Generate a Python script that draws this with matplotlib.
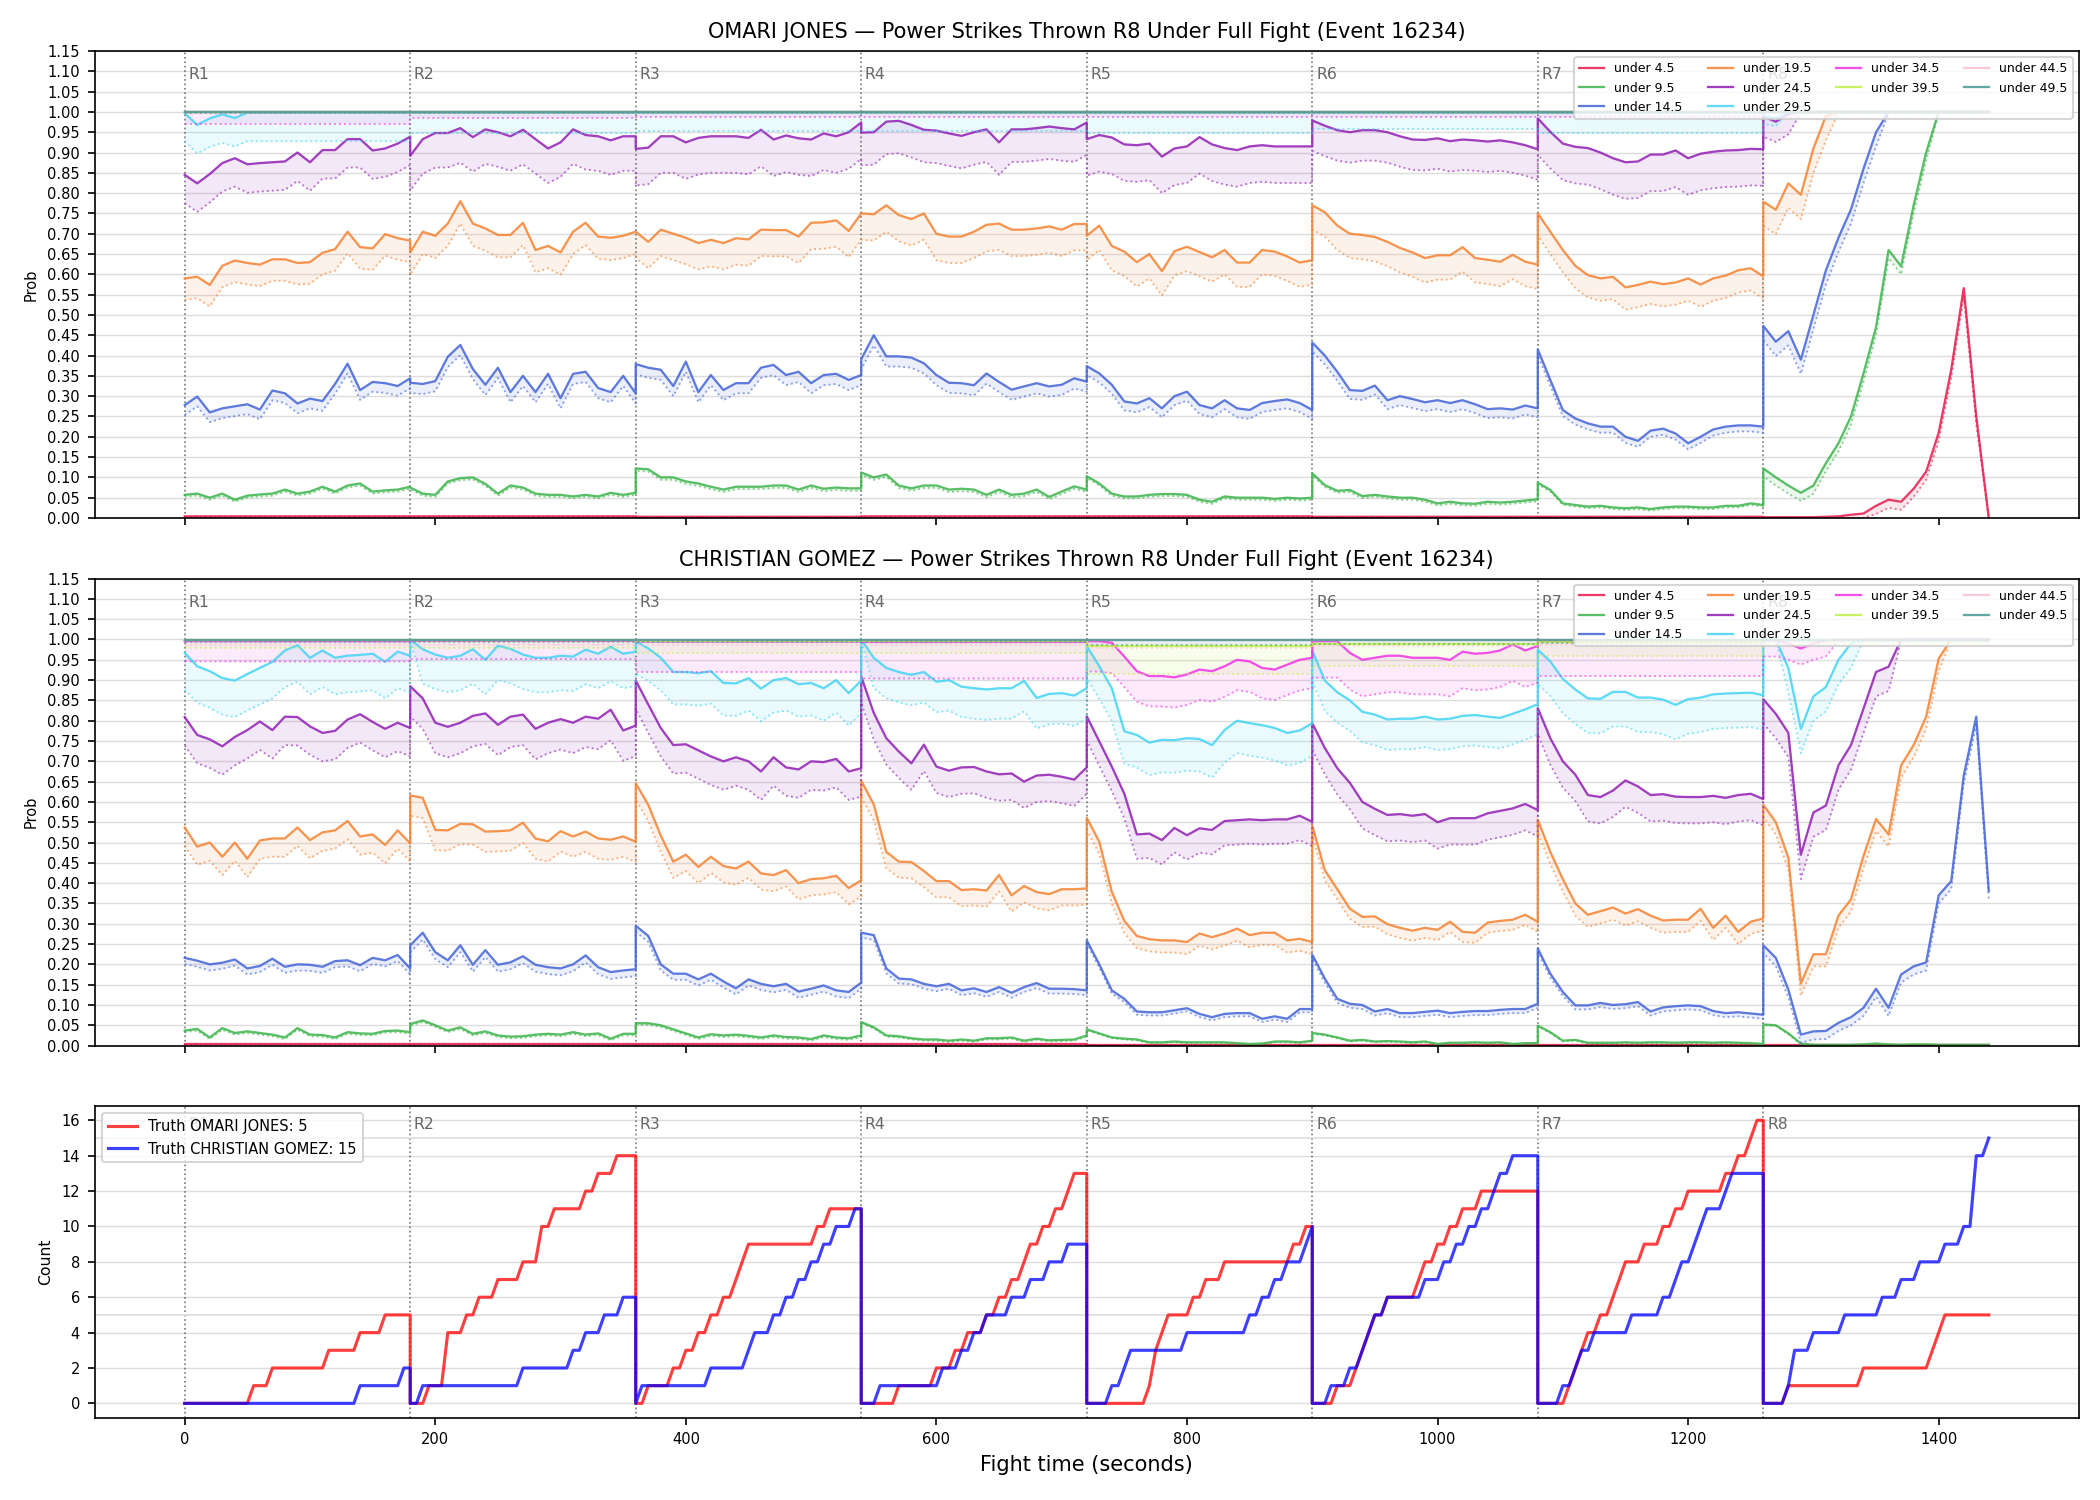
import numpy as np
import matplotlib
matplotlib.use("Agg")
import matplotlib.pyplot as plt
from matplotlib.transforms import blended_transform_factory

# ---- data -------------------------------------------------------------
# probabilities sampled every 10 s inside each 180 s round (19 points per round);
# a single number means the curve sits flat at that level for the whole round
round_len = 180
prob_step = 10
round_names = ["R1", "R2", "R3", "R4", "R5", "R6", "R7", "R8"]
labels = ["under 4.5", "under 9.5", "under 14.5", "under 19.5", "under 24.5",
          "under 29.5", "under 34.5", "under 39.5", "under 44.5", "under 49.5"]
colors = ["#e6194b", "#3cb44b", "#4363d8", "#f58231", "#911eb4",
          "#42d4f4", "#f032e6", "#bfef45", "#fabed4", "#469990"]

# OMARI JONES
jones_u45 = [0.004, 0.004, 0.003, 0.004, 0.004, 0.003, 0.003,
             [0.002, 0.002, 0.002, 0.002, 0.002, 0.003, 0.004, 0.008, 0.011, 0.03,
              0.045, 0.04, 0.072, 0.114, 0.21, 0.365, 0.566, 0.25, 0.0]]
jones_u95 = [
    [0.057, 0.06, 0.05, 0.06, 0.045, 0.055, 0.058, 0.06, 0.07, 0.06, 0.065, 0.077, 0.065, 0.08, 0.085, 0.065, 0.068, 0.07, 0.077],
    [0.075, 0.06, 0.057, 0.09, 0.098, 0.1, 0.084, 0.06, 0.08, 0.075, 0.06, 0.057, 0.057, 0.053, 0.057, 0.053, 0.062, 0.057, 0.062],
    [0.122, 0.12, 0.10, 0.10, 0.09, 0.085, 0.077, 0.07, 0.077, 0.077, 0.077, 0.08, 0.08, 0.07, 0.08, 0.072, 0.075, 0.073, 0.073],
    [0.112, 0.10, 0.107, 0.08, 0.073, 0.08, 0.08, 0.07, 0.072, 0.07, 0.057, 0.07, 0.057, 0.06, 0.07, 0.052, 0.065, 0.078, 0.07],
    [0.103, 0.085, 0.06, 0.053, 0.053, 0.057, 0.059, 0.059, 0.057, 0.045, 0.04, 0.053, 0.05, 0.05, 0.05, 0.047, 0.05, 0.048, 0.05],
    [0.11, 0.081, 0.067, 0.069, 0.054, 0.057, 0.053, 0.05, 0.05, 0.045, 0.036, 0.04, 0.036, 0.035, 0.04, 0.038, 0.04, 0.043, 0.046],
    [0.087, 0.069, 0.036, 0.032, 0.028, 0.03, 0.026, 0.024, 0.026, 0.022, 0.026, 0.028, 0.028, 0.026, 0.026, 0.03, 0.03, 0.036, 0.032],
    [0.122, 0.10, 0.08, 0.062, 0.08, 0.135, 0.184, 0.25, 0.356, 0.47, 0.66, 0.62, 0.77, 0.90, 1.0, 1.0, 1.0, 1.0, 1.0],
]
jones_u145 = [
    [0.278, 0.299, 0.26, 0.27, 0.275, 0.28, 0.267, 0.314, 0.307, 0.282, 0.294, 0.288, 0.33, 0.38, 0.315, 0.335, 0.332, 0.325, 0.344],
    [0.333, 0.33, 0.337, 0.397, 0.426, 0.367, 0.328, 0.37, 0.31, 0.35, 0.31, 0.355, 0.295, 0.355, 0.36, 0.32, 0.31, 0.35, 0.307],
    [0.379, 0.37, 0.365, 0.325, 0.385, 0.31, 0.352, 0.315, 0.332, 0.332, 0.37, 0.377, 0.352, 0.36, 0.332, 0.352, 0.355, 0.34, 0.352],
    [0.391, 0.45, 0.398, 0.398, 0.395, 0.381, 0.352, 0.333, 0.332, 0.327, 0.356, 0.335, 0.316, 0.324, 0.332, 0.324, 0.328, 0.344, 0.336],
    [0.374, 0.356, 0.328, 0.287, 0.282, 0.295, 0.27, 0.3, 0.311, 0.278, 0.27, 0.29, 0.27, 0.266, 0.283, 0.288, 0.292, 0.283, 0.266],
    [0.432, 0.40, 0.36, 0.315, 0.313, 0.326, 0.29, 0.3, 0.293, 0.285, 0.29, 0.283, 0.29, 0.28, 0.268, 0.27, 0.267, 0.277, 0.27],
    [0.415, 0.34, 0.266, 0.245, 0.233, 0.225, 0.225, 0.2, 0.19, 0.215, 0.22, 0.208, 0.184, 0.2, 0.218, 0.225, 0.228, 0.228, 0.225],
    [0.473, 0.434, 0.46, 0.39, 0.5, 0.61, 0.69, 0.76, 0.86, 0.95, 1.0, 1.0, 1.0, 1.0, 1.0, 1.0, 1.0, 1.0, 1.0],
]
jones_u195 = [
    [0.59, 0.594, 0.574, 0.621, 0.634, 0.628, 0.624, 0.637, 0.637, 0.628, 0.63, 0.653, 0.662, 0.705, 0.667, 0.664, 0.699, 0.689, 0.683],
    [0.654, 0.705, 0.695, 0.725, 0.78, 0.725, 0.713, 0.697, 0.697, 0.727, 0.66, 0.67, 0.654, 0.705, 0.727, 0.693, 0.69, 0.695, 0.705],
    [0.705, 0.68, 0.71, 0.70, 0.69, 0.677, 0.685, 0.677, 0.689, 0.686, 0.71, 0.709, 0.709, 0.693, 0.727, 0.728, 0.733, 0.707, 0.75],
    [0.75, 0.748, 0.77, 0.746, 0.736, 0.75, 0.70, 0.693, 0.693, 0.705, 0.722, 0.725, 0.71, 0.71, 0.713, 0.718, 0.71, 0.724, 0.724],
    [0.695, 0.72, 0.67, 0.656, 0.63, 0.65, 0.608, 0.657, 0.668, 0.655, 0.642, 0.66, 0.629, 0.629, 0.66, 0.656, 0.644, 0.629, 0.635],
    [0.77, 0.753, 0.72, 0.70, 0.697, 0.692, 0.68, 0.665, 0.654, 0.64, 0.647, 0.647, 0.667, 0.64, 0.636, 0.631, 0.648, 0.631, 0.624],
    [0.75, 0.705, 0.66, 0.621, 0.598, 0.59, 0.594, 0.568, 0.574, 0.582, 0.576, 0.58, 0.59, 0.575, 0.59, 0.597, 0.61, 0.615, 0.595],
    [0.779, 0.759, 0.824, 0.796, 0.91, 0.99, 1.0, 1.0, 1.0, 1.0, 1.0, 1.0, 1.0, 1.0, 1.0, 1.0, 1.0, 1.0, 1.0],
]
jones_u245 = [
    [0.845, 0.824, 0.847, 0.874, 0.886, 0.871, 0.874, 0.876, 0.878, 0.90, 0.876, 0.906, 0.906, 0.933, 0.933, 0.905, 0.91, 0.922, 0.939],
    [0.892, 0.933, 0.948, 0.948, 0.96, 0.938, 0.957, 0.95, 0.94, 0.956, 0.933, 0.91, 0.925, 0.957, 0.943, 0.94, 0.93, 0.94, 0.94],
    [0.909, 0.912, 0.94, 0.94, 0.925, 0.936, 0.94, 0.94, 0.94, 0.936, 0.956, 0.932, 0.942, 0.935, 0.932, 0.947, 0.94, 0.95, 0.974],
    [0.949, 0.95, 0.976, 0.978, 0.968, 0.956, 0.954, 0.947, 0.941, 0.95, 0.957, 0.925, 0.957, 0.957, 0.96, 0.964, 0.96, 0.957, 0.974],
    [0.933, 0.943, 0.937, 0.92, 0.918, 0.922, 0.89, 0.91, 0.915, 0.938, 0.92, 0.911, 0.906, 0.915, 0.918, 0.915, 0.915, 0.915, 0.915],
    [0.979, 0.966, 0.955, 0.95, 0.955, 0.955, 0.95, 0.94, 0.932, 0.931, 0.935, 0.928, 0.932, 0.93, 0.927, 0.93, 0.925, 0.918, 0.908],
    [0.984, 0.951, 0.922, 0.914, 0.911, 0.90, 0.886, 0.876, 0.878, 0.895, 0.895, 0.905, 0.886, 0.897, 0.902, 0.905, 0.906, 0.909, 0.908],
    [0.989, 0.976, 0.995, 1.0, 1.0, 1.0, 1.0, 1.0, 1.0, 1.0, 1.0, 1.0, 1.0, 1.0, 1.0, 1.0, 1.0, 1.0, 1.0],
]
jones_u295 = [
    [0.997, 0.968, 0.984, 0.994, 0.985, 0.998, 0.998, 0.998, 0.998, 0.998, 0.998, 0.998, 0.998, 0.998, 0.998, 0.998, 0.998, 0.998, 0.998],
    0.998, 0.998, 0.998, 0.998, 0.998, 0.998,
    [0.99, 0.985, 1.0, 1.0, 1.0, 1.0, 1.0, 1.0, 1.0, 1.0, 1.0, 1.0, 1.0, 1.0, 1.0, 1.0, 1.0, 1.0, 1.0],
]
jones_u345 = [0.999, 0.999, 0.999, 0.999, 0.999, 0.999, 0.999, 1.0]
jones_u395 = [1.0, 1.0, 1.0, 1.0, 1.0, 1.0, 1.0, 1.0]
jones_u445 = [1.0, 1.0, 1.0, 1.0, 1.0, 1.0, 1.0, 1.0]
jones_u495 = [1.0, 1.0, 1.0, 1.0, 1.0, 1.0, 1.0, 1.0]

# depth of the dotted lower band below each curve, per round
jones_gap = [
    [0.001, 0.001, 0.001, 0.001, 0.001, 0.001, 0.001, 0.02],
    [0.005, 0.005, 0.006, 0.006, 0.005, 0.005, 0.004, 0.02],
    [0.024, 0.025, 0.025, 0.025, 0.022, 0.022, 0.015, 0.035],
    [0.053, 0.055, 0.065, 0.065, 0.06, 0.06, 0.055, 0.06],
    [0.07, 0.085, 0.09, 0.08, 0.09, 0.075, 0.09, 0.05],
    [0.07, 0.05, 0.045, 0.045, 0.05, 0.04, 0.05, 0.02],
    [0.03, 0.015, 0.012, 0.012, 0.012, 0.012, 0.012, 0.005],
    [0.01, 0.005, 0.005, 0.005, 0.005, 0.005, 0.005, 0.003],
    [0.003, 0.003, 0.003, 0.003, 0.003, 0.003, 0.003, 0.003],
    [0.002, 0.002, 0.002, 0.002, 0.002, 0.002, 0.002, 0.002],
]

# CHRISTIAN GOMEZ
gomez_u45 = [0.003, 0.003, 0.003, 0.003, 0.002, 0.002, 0.002, 0.001]
gomez_u95 = [
    [0.037, 0.041, 0.02, 0.043, 0.031, 0.035, 0.031, 0.027, 0.02, 0.043, 0.027, 0.026, 0.02, 0.033, 0.03, 0.029, 0.036, 0.037, 0.033],
    [0.053, 0.062, 0.05, 0.037, 0.045, 0.029, 0.035, 0.025, 0.022, 0.023, 0.027, 0.029, 0.027, 0.033, 0.027, 0.03, 0.017, 0.029, 0.029],
    [0.055, 0.055, 0.05, 0.04, 0.03, 0.02, 0.028, 0.025, 0.027, 0.024, 0.02, 0.025, 0.021, 0.02, 0.016, 0.025, 0.02, 0.018, 0.025],
    [0.058, 0.045, 0.025, 0.023, 0.018, 0.015, 0.015, 0.012, 0.015, 0.012, 0.018, 0.018, 0.02, 0.012, 0.017, 0.013, 0.014, 0.015, 0.025],
    [0.04, 0.03, 0.02, 0.017, 0.015, 0.008, 0.008, 0.01, 0.008, 0.008, 0.008, 0.008, 0.006, 0.004, 0.005, 0.01, 0.01, 0.008, 0.012],
    [0.031, 0.027, 0.02, 0.012, 0.014, 0.01, 0.011, 0.01, 0.008, 0.01, 0.004, 0.007, 0.007, 0.008, 0.007, 0.008, 0.004, 0.006, 0.006],
    [0.049, 0.033, 0.012, 0.014, 0.007, 0.007, 0.007, 0.008, 0.007, 0.008, 0.008, 0.007, 0.008, 0.008, 0.007, 0.008, 0.007, 0.006, 0.004],
    [0.052, 0.05, 0.03, 0.005, 0.002, 0.002, 0.002, 0.002, 0.003, 0.005, 0.003, 0.002, 0.003, 0.003, 0.002, 0.002, 0.002, 0.002, 0.002],
]
gomez_u145 = [
    [0.216, 0.209, 0.2, 0.204, 0.212, 0.19, 0.196, 0.214, 0.194, 0.2, 0.199, 0.194, 0.208, 0.21, 0.198, 0.216, 0.21, 0.223, 0.19],
    [0.247, 0.278, 0.23, 0.21, 0.247, 0.199, 0.235, 0.199, 0.205, 0.22, 0.199, 0.193, 0.19, 0.2, 0.222, 0.193, 0.181, 0.185, 0.188],
    [0.295, 0.27, 0.2, 0.177, 0.177, 0.163, 0.177, 0.158, 0.141, 0.163, 0.152, 0.146, 0.152, 0.133, 0.14, 0.148, 0.136, 0.132, 0.155],
    [0.278, 0.272, 0.19, 0.165, 0.163, 0.152, 0.146, 0.152, 0.136, 0.141, 0.132, 0.144, 0.13, 0.144, 0.154, 0.14, 0.14, 0.139, 0.136],
    [0.259, 0.2, 0.136, 0.115, 0.084, 0.082, 0.082, 0.087, 0.092, 0.078, 0.07, 0.078, 0.08, 0.08, 0.066, 0.072, 0.066, 0.09, 0.09],
    [0.224, 0.165, 0.115, 0.103, 0.1, 0.084, 0.09, 0.08, 0.08, 0.083, 0.086, 0.08, 0.083, 0.085, 0.085, 0.088, 0.09, 0.09, 0.103],
    [0.239, 0.177, 0.132, 0.099, 0.099, 0.105, 0.1, 0.102, 0.107, 0.084, 0.094, 0.097, 0.099, 0.097, 0.085, 0.08, 0.082, 0.079, 0.076],
    [0.247, 0.216, 0.138, 0.027, 0.035, 0.036, 0.056, 0.07, 0.093, 0.14, 0.093, 0.175, 0.195, 0.205, 0.37, 0.405, 0.665, 0.81, 0.381],
]
gomez_u195 = [
    [0.537, 0.49, 0.50, 0.465, 0.50, 0.46, 0.505, 0.51, 0.51, 0.537, 0.506, 0.525, 0.53, 0.553, 0.515, 0.52, 0.494, 0.53, 0.498],
    [0.616, 0.61, 0.531, 0.53, 0.546, 0.545, 0.527, 0.528, 0.53, 0.549, 0.51, 0.503, 0.528, 0.515, 0.527, 0.51, 0.507, 0.515, 0.502],
    [0.646, 0.593, 0.517, 0.453, 0.47, 0.44, 0.465, 0.442, 0.436, 0.453, 0.424, 0.42, 0.432, 0.40, 0.41, 0.412, 0.418, 0.388, 0.407],
    [0.652, 0.594, 0.477, 0.453, 0.452, 0.43, 0.405, 0.405, 0.383, 0.385, 0.382, 0.42, 0.37, 0.393, 0.378, 0.373, 0.385, 0.385, 0.387],
    [0.561, 0.502, 0.379, 0.307, 0.27, 0.262, 0.259, 0.259, 0.255, 0.276, 0.267, 0.276, 0.288, 0.272, 0.278, 0.278, 0.259, 0.263, 0.255],
    [0.542, 0.432, 0.385, 0.337, 0.317, 0.318, 0.299, 0.29, 0.283, 0.29, 0.285, 0.305, 0.28, 0.278, 0.303, 0.307, 0.31, 0.322, 0.305],
    [0.556, 0.477, 0.41, 0.35, 0.322, 0.331, 0.34, 0.325, 0.336, 0.32, 0.308, 0.31, 0.31, 0.337, 0.29, 0.32, 0.28, 0.305, 0.313],
    [0.593, 0.55, 0.463, 0.153, 0.225, 0.225, 0.32, 0.36, 0.467, 0.558, 0.52, 0.69, 0.74, 0.81, 0.953, 1.0, 1.0, 1.0, 1.0],
]
gomez_u245 = [
    [0.809, 0.765, 0.754, 0.737, 0.76, 0.777, 0.798, 0.777, 0.81, 0.809, 0.786, 0.77, 0.775, 0.803, 0.816, 0.797, 0.78, 0.795, 0.782],
    [0.885, 0.855, 0.795, 0.785, 0.795, 0.812, 0.818, 0.79, 0.81, 0.815, 0.78, 0.795, 0.804, 0.795, 0.81, 0.805, 0.827, 0.776, 0.788],
    [0.899, 0.84, 0.782, 0.74, 0.742, 0.727, 0.712, 0.70, 0.71, 0.70, 0.675, 0.71, 0.685, 0.68, 0.70, 0.698, 0.706, 0.675, 0.683],
    [0.909, 0.819, 0.757, 0.724, 0.695, 0.741, 0.687, 0.677, 0.685, 0.686, 0.675, 0.668, 0.67, 0.65, 0.665, 0.667, 0.662, 0.655, 0.685],
    [0.811, 0.749, 0.687, 0.62, 0.52, 0.522, 0.506, 0.536, 0.518, 0.535, 0.531, 0.553, 0.555, 0.557, 0.555, 0.557, 0.557, 0.566, 0.551],
    [0.794, 0.733, 0.683, 0.647, 0.60, 0.583, 0.568, 0.57, 0.566, 0.57, 0.55, 0.56, 0.56, 0.56, 0.572, 0.578, 0.584, 0.595, 0.58],
    [0.831, 0.757, 0.70, 0.667, 0.617, 0.612, 0.628, 0.653, 0.638, 0.617, 0.619, 0.613, 0.612, 0.612, 0.615, 0.61, 0.617, 0.62, 0.607],
    [0.853, 0.817, 0.77, 0.47, 0.574, 0.591, 0.69, 0.74, 0.83, 0.92, 0.933, 1.0, 1.0, 1.0, 1.0, 1.0, 1.0, 1.0, 1.0],
]
gomez_u295 = [
    [0.967, 0.934, 0.922, 0.905, 0.899, 0.915, 0.93, 0.945, 0.973, 0.986, 0.955, 0.973, 0.955, 0.96, 0.962, 0.965, 0.945, 0.97, 0.96],
    [1.0, 0.976, 0.963, 0.955, 0.96, 0.976, 0.95, 0.985, 0.977, 0.963, 0.955, 0.955, 0.96, 0.958, 0.975, 0.965, 0.982, 0.965, 0.97],
    [0.996, 0.978, 0.955, 0.92, 0.92, 0.917, 0.922, 0.893, 0.892, 0.905, 0.879, 0.90, 0.905, 0.89, 0.893, 0.88, 0.90, 0.868, 0.899],
    [1.0, 0.955, 0.93, 0.92, 0.913, 0.92, 0.896, 0.90, 0.884, 0.88, 0.877, 0.88, 0.88, 0.898, 0.856, 0.866, 0.868, 0.862, 0.88],
    [0.984, 0.934, 0.88, 0.774, 0.765, 0.746, 0.753, 0.752, 0.757, 0.755, 0.74, 0.777, 0.80, 0.794, 0.789, 0.782, 0.77, 0.776, 0.794],
    [0.973, 0.899, 0.87, 0.85, 0.822, 0.815, 0.803, 0.805, 0.805, 0.81, 0.803, 0.805, 0.812, 0.814, 0.81, 0.807, 0.817, 0.828, 0.841],
    [0.975, 0.946, 0.903, 0.877, 0.855, 0.854, 0.871, 0.871, 0.857, 0.857, 0.852, 0.839, 0.853, 0.857, 0.865, 0.867, 0.868, 0.869, 0.863],
    [1.0, 1.0, 0.93, 0.78, 0.86, 0.883, 0.95, 0.99, 1.0, 1.0, 1.0, 1.0, 1.0, 1.0, 1.0, 1.0, 1.0, 1.0, 1.0],
]
gomez_u345 = [
    0.996, 0.997, 0.995, 0.994,
    [0.996, 0.996, 0.992, 0.958, 0.922, 0.91, 0.91, 0.907, 0.914, 0.926, 0.922, 0.934, 0.95, 0.946, 0.93, 0.926, 0.938, 0.95, 0.955],
    [0.996, 0.996, 0.996, 0.967, 0.95, 0.955, 0.96, 0.96, 0.955, 0.955, 0.955, 0.95, 0.97, 0.965, 0.967, 0.973, 0.988, 0.973, 0.984],
    0.995,
    [0.998, 0.998, 0.99, 0.978, 0.99, 0.998, 1.0, 1.0, 1.0, 1.0, 1.0, 1.0, 1.0, 1.0, 1.0, 1.0, 1.0, 1.0, 1.0],
]
gomez_u395 = [0.998, 0.998, 0.997, 0.997, 0.985, 0.99, 0.995, 0.999]
gomez_u445 = [0.999, 0.999, 0.999, 0.999, 0.999, 0.999, 0.999, 0.999]
gomez_u495 = [0.999, 0.999, 0.999, 0.999, 0.999, 0.999, 0.999, 0.999]

gomez_gap = [
    [0.001, 0.001, 0.001, 0.001, 0.001, 0.001, 0.001, 0.001],
    [0.004, 0.004, 0.004, 0.003, 0.002, 0.002, 0.002, 0.002],
    [0.015, 0.017, 0.015, 0.012, 0.008, 0.01, 0.01, 0.02],
    [0.045, 0.05, 0.04, 0.04, 0.03, 0.025, 0.03, 0.03],
    [0.07, 0.075, 0.07, 0.065, 0.06, 0.065, 0.065, 0.06],
    [0.09, 0.085, 0.08, 0.075, 0.08, 0.075, 0.085, 0.06],
    [0.05, 0.045, 0.075, 0.09, 0.075, 0.09, 0.085, 0.04],
    [0.02, 0.02, 0.03, 0.03, 0.07, 0.055, 0.035, 0.01],
    [0.012, 0.012, 0.012, 0.012, 0.02, 0.015, 0.012, 0.005],
    [0.006, 0.006, 0.006, 0.006, 0.012, 0.01, 0.008, 0.003],
]

# truth: fight time (s) at which each power strike lands; the count resets every round
truth_step = 5
jones_strikes = [
    [55, 70, 115, 140, 160],
    [195, 210, 210, 210, 225, 235, 250, 270, 285, 285, 295, 320, 330, 345],
    [370, 390, 400, 410, 420, 430, 440, 445, 450, 505, 515],
    [570, 600, 615, 625, 640, 650, 660, 670, 675, 685, 695, 705, 710],
    [770, 775, 775, 780, 785, 805, 815, 830, 885, 895],
    [920, 935, 940, 945, 950, 960, 985, 990, 1000, 1010, 1020, 1035],
    [1105, 1110, 1115, 1120, 1130, 1140, 1145, 1150, 1165, 1180, 1190, 1200, 1230, 1240, 1250, 1255],
    [1280, 1340, 1395, 1400, 1405],
]
gomez_strikes = [
    [140, 175],
    [190, 270, 310, 320, 335, 350],
    [365, 420, 450, 455, 470, 480, 490, 500, 510, 520, 535],
    [555, 605, 620, 630, 640, 660, 675, 690, 705],
    [740, 750, 755, 800, 850, 860, 870, 880, 895, 900],
    [915, 930, 940, 945, 950, 960, 990, 1005, 1015, 1025, 1035, 1045, 1050, 1060],
    [1100, 1110, 1115, 1125, 1155, 1180, 1190, 1195, 1205, 1210, 1215, 1230, 1235],
    [1280, 1285, 1285, 1300, 1325, 1355, 1370, 1385, 1405, 1420, 1430, 1430, 1430, 1430, 1440],
]
jones_total = 5
gomez_total = 15


def build_curve(rounds, gaps):
    xs, hi, lo = [], [], []
    n = round_len // prob_step + 1
    for r, seg in enumerate(rounds):
        vals = np.full(n, float(seg)) if np.isscalar(seg) else np.asarray(seg, float)
        xs.append(r * round_len + np.arange(n) * prob_step)
        hi.append(vals)
        low = np.where(vals >= 0.9995, vals - 0.002, vals - gaps[r])
        lo.append(np.clip(low, 0, None))
    return np.concatenate(xs), np.concatenate(hi), np.concatenate(lo)


def build_truth(strikes):
    xs, ys = [], []
    for r, times in enumerate(strikes):
        t = r * round_len + np.arange(0, round_len + 1, truth_step)
        xs.append(t)
        ys.append(np.searchsorted(np.sort(times), t, side="right"))
    return np.concatenate(xs), np.concatenate(ys)


def add_rounds(ax):
    trans = blended_transform_factory(ax.transData, ax.transAxes)
    for r, name in enumerate(round_names):
        x0 = r * round_len
        ax.axvline(x0, color="#555555", ls=":", lw=0.8, alpha=0.8, zorder=1)
        ax.text(x0 + 3, 0.965, name, transform=trans, color="#666666",
                fontsize=7.5, va="top", ha="left", zorder=1)


def prob_panel(ax, series, gaps, name):
    for i, rounds in enumerate(series):
        x, hi, lo = build_curve(rounds, gaps[i])
        ax.fill_between(x, lo, hi, color=colors[i], alpha=0.1, lw=0)
        ax.plot(x, lo, color=colors[i], ls=":", lw=0.9, alpha=0.6)
        ax.plot(x, hi, color=colors[i], lw=1.1, alpha=0.85, label=labels[i])
    add_rounds(ax)
    ax.set_ylim(0, 1.15)
    ax.set_yticks(np.arange(0, 1.151, 0.05))
    ax.yaxis.set_major_formatter(plt.FormatStrFormatter("%.2f"))
    ax.grid(axis="y", color="#dddddd", lw=0.7)
    ax.set_axisbelow(True)
    ax.set_ylabel("Prob", fontsize=7)
    ax.set_title(f"{name} \u2014 Power Strikes Thrown R8 Under Full Fight (Event 16234)",
                 fontsize=10)
    ax.legend(loc="upper right", ncol=4, fontsize=6, framealpha=0.8)


fig, axes = plt.subplots(3, 1, figsize=(14, 10), dpi=150, sharex=True,
                         gridspec_kw=dict(height_ratios=[3, 3, 2]))
fig.subplots_adjust(left=0.045, right=0.99, top=0.966, bottom=0.055, hspace=0.146)

jones_series = [jones_u45, jones_u95, jones_u145, jones_u195, jones_u245,
                jones_u295, jones_u345, jones_u395, jones_u445, jones_u495]
gomez_series = [gomez_u45, gomez_u95, gomez_u145, gomez_u195, gomez_u245,
                gomez_u295, gomez_u345, gomez_u395, gomez_u445, gomez_u495]

prob_panel(axes[0], jones_series, jones_gap, "OMARI JONES")
prob_panel(axes[1], gomez_series, gomez_gap, "CHRISTIAN GOMEZ")

ax = axes[2]
ax.axhline(jones_total, color="#dddddd", lw=0.8)
ax.axhline(gomez_total, color="#dddddd", lw=0.8)
tx, ty = build_truth(jones_strikes)
ax.plot(tx, ty, color="red", lw=1.5, alpha=0.75, label=f"Truth OMARI JONES: {jones_total}")
tx, ty = build_truth(gomez_strikes)
ax.plot(tx, ty, color="blue", lw=1.5, alpha=0.75, label=f"Truth CHRISTIAN GOMEZ: {gomez_total}")
add_rounds(ax)
ax.grid(axis="y", color="#dddddd", lw=0.7)
ax.set_axisbelow(True)
ax.set_ylabel("Count", fontsize=7.5)
ax.set_xlabel("Fight time (seconds)", fontsize=10)
ax.legend(loc="upper left", fontsize=7, framealpha=0.8)

for a in axes:
    a.tick_params(labelsize=7)

fig.savefig("out.png", dpi=150)
